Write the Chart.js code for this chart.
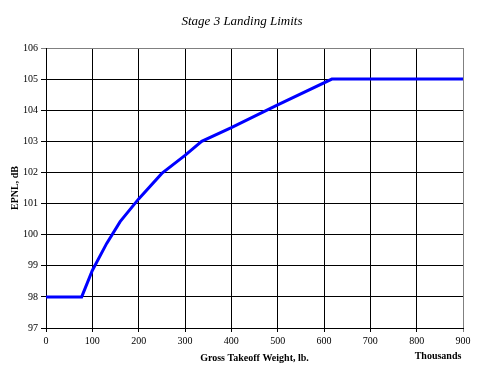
<!DOCTYPE html>
<html>
<head>
<meta charset="utf-8">
<script src="https://cdn.jsdelivr.net/npm/chart.js@4/dist/chart.umd.min.js"></script>
<style>
html,body{margin:0;padding:0;background:#fff;}
#wrap{width:477px;height:370px;position:relative;}
</style>
</head>
<body>
<div id="wrap"><canvas id="c" width="477" height="370"></canvas></div>
<script>
const chartTitle = "Stage 3 Landing Limits";
const xAxisTitle = "Gross Takeoff Weight, lb.";
const yAxisTitle = "EPNL, dB";
const xUnitLabel = "Thousands";
const weightThousands = [0, 77, 100, 131, 160, 200, 250, 300, 336, 400, 500, 617, 900];
const epnlDb =          [98, 98, 98.85, 99.72, 100.42, 101.15, 101.97, 102.55, 103, 103.44, 104.17, 105, 105];
const xTicks = [0, 100, 200, 300, 400, 500, 600, 700, 800, 900];
const yTicks = [97, 98, 99, 100, 101, 102, 103, 104, 105, 106];

const points = weightThousands.map((w, i) => ({x: w, y: epnlDb[i]}));
const serif = "'Liberation Serif', 'Times New Roman', serif";

const textPlugin = {
  id: 'extraText',
  afterDraw(chart) {
    const ctx = chart.ctx;
    ctx.save();
    ctx.fillStyle = '#000';
    ctx.textAlign = 'center';
    ctx.textBaseline = 'middle';
    ctx.font = "italic 13px " + serif;
    ctx.fillText(chartTitle, 242, 22);
    ctx.font = "bold 10px " + serif;
    ctx.fillText(xUnitLabel, 438, 356);
    ctx.restore();
  }
};

new Chart(document.getElementById('c'), {
  type: 'line',
  data: {
    datasets: [{
      data: points,
      borderColor: '#0000FF',
      borderWidth: 3,
      pointRadius: 0,
      tension: 0,
      fill: false
    }]
  },
  options: {
    responsive: false,
    animation: false,
    events: [],
    layout: {padding: {left: 0, right: 14, top: 48, bottom: 0}},
    plugins: {
      legend: {display: false},
      tooltip: {enabled: false},
      title: {display: false}
    },
    scales: {
      x: {
        type: 'linear',
        min: 0, max: 900,
        afterBuildTicks(scale) { scale.ticks = xTicks.map(v => ({value: v})); },
        afterFit(scale) { scale.height = 42; },
        ticks: {color: '#000', font: {family: serif, size: 10}, padding: 3, maxRotation: 0, autoSkip: false},
        grid: {
          color: ctx => (ctx.tick && ctx.tick.value === 900) ? '#808080' : '#000',
          lineWidth: 1,
          tickLength: 4,
          drawTicks: true
        },
        border: {color: '#000', width: 1},
        title: {
          display: true, text: xAxisTitle, color: '#000',
          font: {family: serif, size: 10, weight: 'bold', lineHeight: 1.2},
          padding: {top: 0, bottom: 6}
        }
      },
      y: {
        type: 'linear',
        min: 97, max: 106,
        afterBuildTicks(scale) { scale.ticks = yTicks.map(v => ({value: v})); },
        afterFit(scale) { scale.width = 46; },
        ticks: {color: '#000', font: {family: serif, size: 10}, padding: 3, autoSkip: false},
        grid: {
          color: ctx => (ctx.tick && ctx.tick.value === 106) ? '#808080' : '#000',
          lineWidth: 1,
          tickLength: 5,
          drawTicks: true
        },
        border: {color: '#000', width: 1},
        title: {
          display: true, text: yAxisTitle, color: '#000',
          font: {family: serif, size: 10, weight: 'bold', lineHeight: 1.2},
          padding: {top: 9, bottom: 0}
        }
      }
    }
  },
  plugins: [textPlugin]
});
</script>
</body>
</html>
